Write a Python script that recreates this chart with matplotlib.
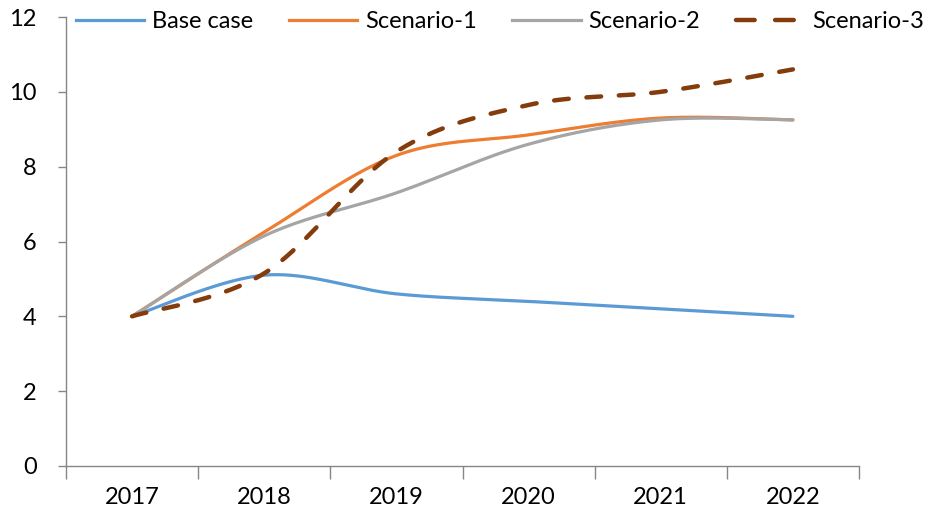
import numpy as np
import matplotlib.pyplot as plt
from matplotlib.lines import Line2D

years = ['2017', '2018', '2019', '2020', '2021', '2022']
base_case = [4.0, 5.1, 4.6, 4.4, 4.2, 4.0]
scenario_1 = [4.0, 6.25, 8.3, 8.85, 9.3, 9.25]
scenario_2 = [4.0, 6.15, 7.3, 8.6, 9.25, 9.25]
scenario_3 = [4.0, 5.15, 8.4, 9.65, 10.0, 10.6]


def smooth(xs, ys, n=40):
    # Excel-style smoothed line: bezier segments with catmull-rom control points
    p = np.column_stack([xs, ys]).astype(float)
    p = np.vstack([p[0], p, p[-1]])
    out = []
    t = np.linspace(0, 1, n)[:, None]
    for i in range(1, len(p) - 2):
        p0, p1, p2, p3 = p[i - 1], p[i], p[i + 1], p[i + 2]
        c1 = p1 + (p2 - p0) / 6
        c2 = p2 - (p3 - p1) / 6
        seg = ((1 - t) ** 3) * p1 + 3 * ((1 - t) ** 2) * t * c1 + 3 * (1 - t) * t ** 2 * c2 + t ** 3 * p2
        out.append(seg if i == 1 else seg[1:])
    seg = np.vstack(out)
    return seg[:, 0], seg[:, 1]


plt.rcParams['font.family'] = ['Lato', 'DejaVu Sans']

fig = plt.figure(figsize=(9.3, 5.14), dpi=100)
ax = fig.add_axes([66 / 930, 1 - 466 / 514, (859 - 66) / 930, (466 - 17) / 514])

x = np.arange(len(years))
series = [
    ('Base case', base_case, '#5B9BD5', '-'),
    ('Scenario-1', scenario_1, '#ED7D31', '-'),
    ('Scenario-2', scenario_2, '#A5A5A5', '-'),
    ('Scenario-3', scenario_3, '#843C0C', '--'),
]
dash = (3.3, 4.0)

handles = []
for name, vals, col, ls in series:
    sx, sy = smooth(x, vals)
    if ls == '--':
        ax.plot(sx, sy, color=col, lw=3.2, dashes=dash, dash_capstyle='round')
        handles.append(Line2D([], [], color=col, lw=3.2, dashes=(4.2, 4.6), dash_capstyle='round'))
    else:
        ax.plot(sx, sy, color=col, lw=2.3, solid_capstyle='round')
        handles.append(Line2D([], [], color=col, lw=2.3))

ax.set_xlim(-0.5, len(years) - 0.5)
ax.set_ylim(0, 12)
ax.set_yticks(range(0, 13, 2))
ax.set_xticks(np.arange(-0.5, len(years), 1.0))
ax.set_xticklabels([])
ax.set_xticks(x, minor=True)
ax.set_xticklabels(years, minor=True)

ax.tick_params(axis='x', which='major', length=9, color='#868686', width=1)
ax.tick_params(axis='x', which='minor', length=0, pad=15, labelsize=17)
ax.tick_params(axis='y', length=6, color='#868686', width=1, pad=15, labelsize=17)

for s in ['top', 'right']:
    ax.spines[s].set_visible(False)
for s in ['left', 'bottom']:
    ax.spines[s].set_color('#868686')
    ax.spines[s].set_linewidth(1)

fig.legend(handles, [s[0] for s in series], loc='center left',
           bbox_to_anchor=(76 / 930, 1 - 22 / 514), ncol=4, frameon=False,
           fontsize=17, handlelength=2.9, handletextpad=0.33, columnspacing=1.5,
           borderpad=0, borderaxespad=0)

fig.savefig('out.png', dpi=100)
